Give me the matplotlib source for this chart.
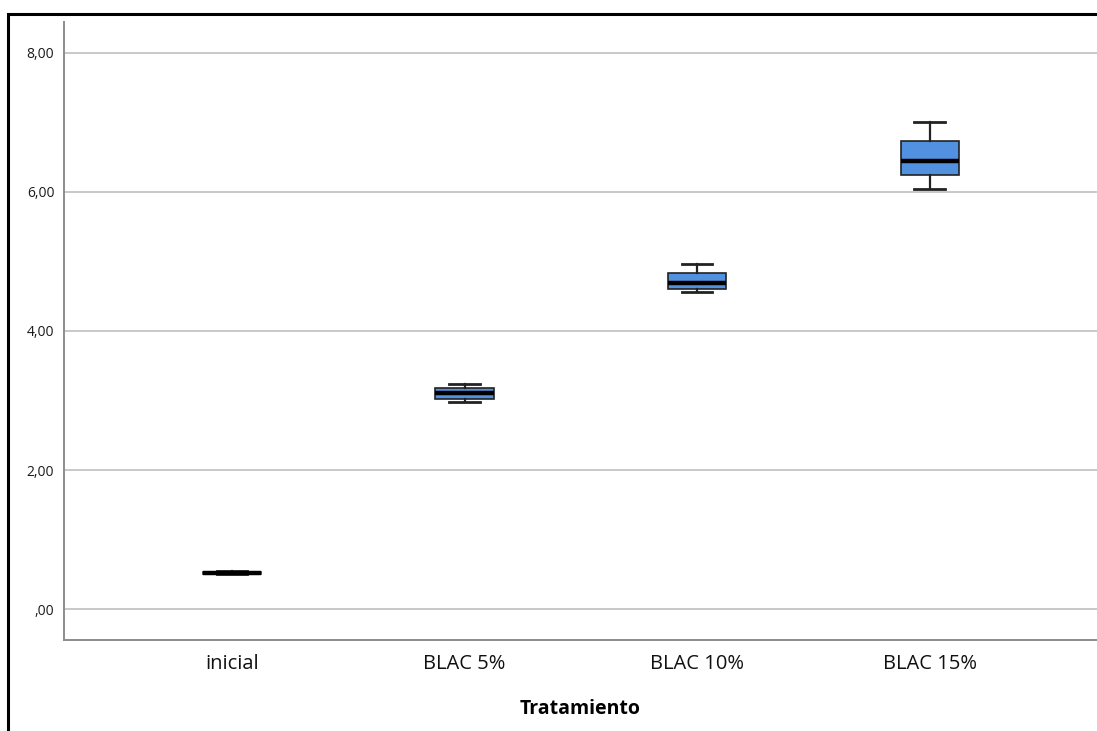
import matplotlib
matplotlib.use("Agg")
import matplotlib.pyplot as plt
from matplotlib.patches import Rectangle
from matplotlib.ticker import FuncFormatter

plt.rcParams['font.family'] = ['Open Sans', 'DejaVu Sans']

# five-number summaries per treatment
groups = ['inicial', 'BLAC 5%', 'BLAC 10%', 'BLAC 15%']
whis_lo = [0.50, 2.98, 4.56, 6.04]
q1 = [0.51, 3.02, 4.60, 6.24]
median = [0.52, 3.11, 4.69, 6.45]
q3 = [0.535, 3.18, 4.83, 6.73]
whis_hi = [0.545, 3.24, 4.96, 7.01]

stats = [
    dict(label=g, whislo=lo, q1=a, med=m, q3=b, whishi=hi, fliers=[])
    for g, lo, a, m, b, hi in zip(groups, whis_lo, q1, median, q3, whis_hi)
]

fig = plt.figure(figsize=(10.97, 7.31), dpi=100)
ax = fig.add_axes([64 / 1097, 1 - 640 / 731, 1 - 64 / 1097, (640 - 22) / 731])

# outer frame around the chart
fig.patches.append(Rectangle((8 / 1097, -0.1), 1.2, 1.1 - 14 / 731,
                             transform=fig.transFigure, fill=False,
                             edgecolor='black', linewidth=2.2, zorder=10))

ax.bxp(stats, positions=range(len(groups)), widths=0.25, capwidths=0.13,
       patch_artist=True, showfliers=False,
       boxprops=dict(facecolor='#5291e0', edgecolor='#222222', linewidth=1.2),
       medianprops=dict(color='black', linewidth=3.2),
       whiskerprops=dict(color='#222222', linewidth=1.6),
       capprops=dict(color='#222222', linewidth=2))

ax.set_xlim(-0.7226, 3.72)
ax.set_ylim(-0.446, 8.446)
ax.set_yticks([0, 2, 4, 6, 8])


def comma_fmt(v, pos):
    s = f"{v:.2f}".replace('.', ',')
    return s[1:] if s.startswith('0') else s


ax.yaxis.set_major_formatter(FuncFormatter(comma_fmt))
ax.grid(axis='y', color='#c8c8c8', linewidth=1.4)
ax.set_axisbelow(True)

for side in ('top', 'right'):
    ax.spines[side].set_visible(False)
for side in ('left', 'bottom'):
    ax.spines[side].set_color('#8c8c8c')
    ax.spines[side].set_linewidth(1.4)

ax.tick_params(axis='y', length=0, pad=7, labelsize=10, labelcolor='#1a1a1a')
ax.tick_params(axis='x', length=0, pad=10, labelsize=14.5, labelcolor='#111111')
ax.set_xlabel('Tratamiento', fontsize=14, fontweight='bold', labelpad=18)

fig.savefig('out.png', dpi=100)
